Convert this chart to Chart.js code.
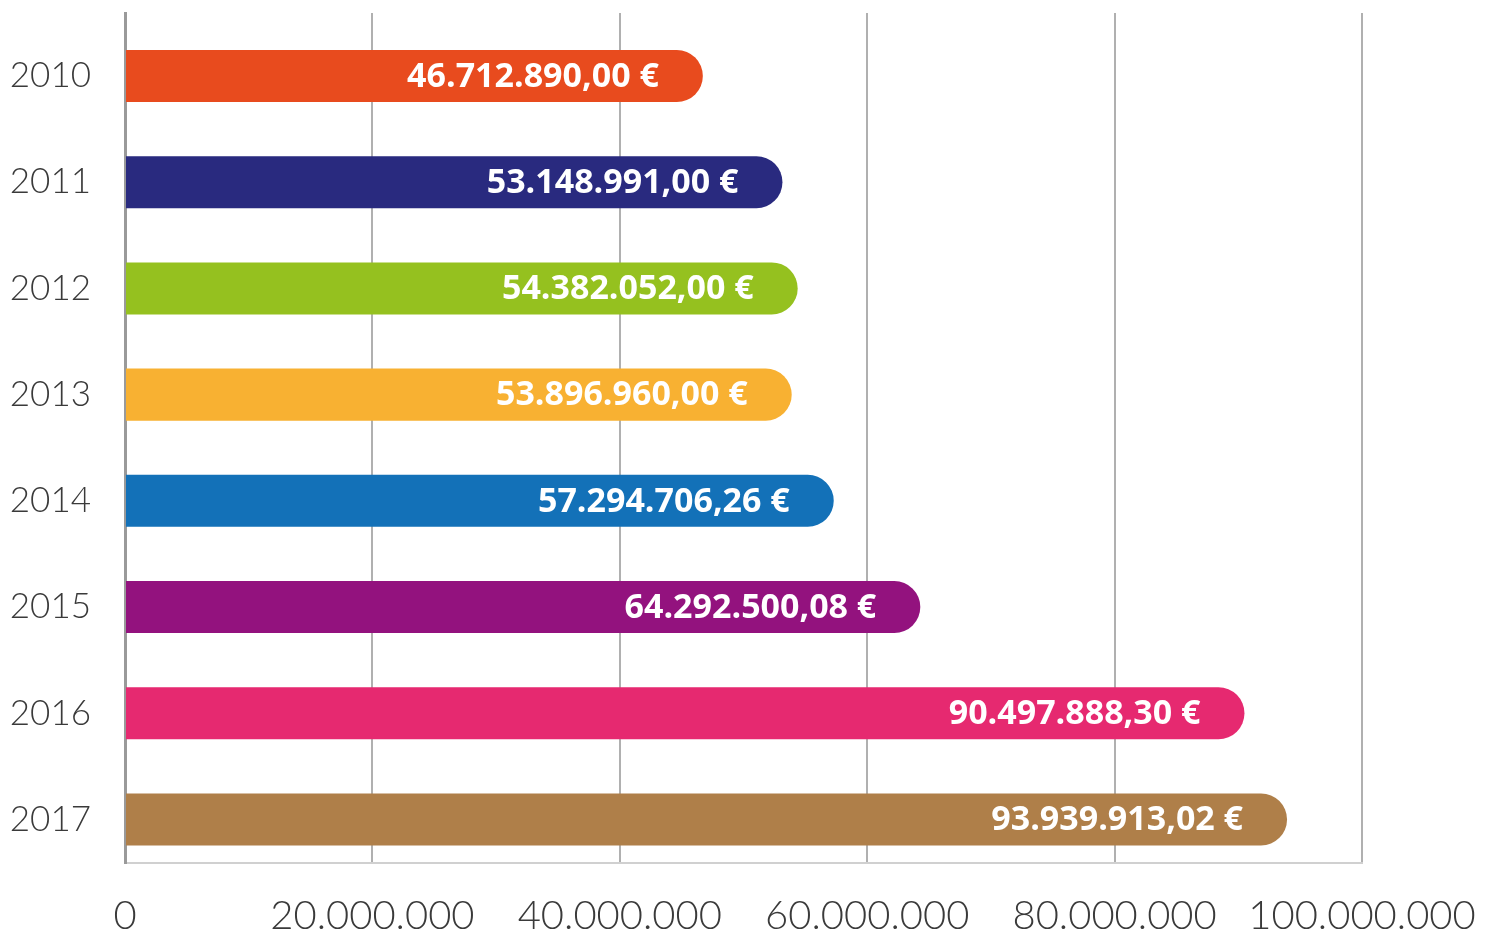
<!DOCTYPE html>
<html lang="es">
<head>
    <meta charset="UTF-8">
    <title>Importes por año</title>
    <script src="https://cdn.jsdelivr.net/npm/chart.js"></script>
    <style>
        html, body { margin: 0; padding: 0; background: #ffffff; }
        .wrap { width: 1488px; height: 934px; }
    </style>
</head>
<body>
    <div class="wrap">
        <canvas id="barChart" width="1488" height="934"></canvas>
    </div>

    <script>
        // datos
        const years = ['2010', '2011', '2012', '2013', '2014', '2015', '2016', '2017'];
        const amounts = [46712890.00, 53148991.00, 54382052.00, 53896960.00, 57294706.26, 64292500.08, 90497888.30, 93939913.02];
        const valueLabels = ['46.712.890,00 €', '53.148.991,00 €', '54.382.052,00 €', '53.896.960,00 €',
                             '57.294.706,26 €', '64.292.500,08 €', '90.497.888,30 €', '93.939.913,02 €'];
        const barColors = ['#E84B1E', '#292A7F', '#95C11F', '#F8B132', '#1371B8', '#93127E', '#E62970', '#AF7F49'];
        const xTickLabels = ['0', '20.000.000', '40.000.000', '60.000.000', '80.000.000', '100.000.000'];

        // etiquetas blancas dentro de cada barra
        const insideLabels = {
            id: 'insideLabels',
            afterDatasetsDraw(chart) {
                const ctx = chart.ctx;
                const meta = chart.getDatasetMeta(0);
                ctx.save();
                ctx.fillStyle = '#ffffff';
                ctx.font = 'bold 34px "Open Sans", sans-serif';
                ctx.textAlign = 'right';
                ctx.textBaseline = 'middle';
                meta.data.forEach((bar, i) => {
                    ctx.fillText(valueLabels[i], bar.x - 44, bar.y + 1);
                });
                ctx.restore();
            }
        };

        // sin huecos extra por las etiquetas que sobresalen
        const noPad = s => { s.paddingTop = 0; s.paddingBottom = 0; s.paddingLeft = 0; s.paddingRight = 0; };

        // eje de años como escala lineal: en el original las barras no están centradas en el marco
        const points = amounts.map((v, i) => ({ x: v, y: i }));

        const ctx = document.getElementById('barChart').getContext('2d');
        new Chart(ctx, {
            type: 'bar',
            data: {
                datasets: [{
                    data: points,
                    backgroundColor: barColors,
                    borderWidth: 0,
                    borderRadius: 26,
                    borderSkipped: 'start',
                    barPercentage: 0.98,
                    categoryPercentage: 0.5
                }]
            },
            options: {
                indexAxis: 'y',
                responsive: false,
                animation: false,
                layout: { padding: { top: 13, right: 126, left: 0, bottom: 0 } },
                plugins: {
                    legend: { display: false },
                    tooltip: { enabled: false }
                },
                scales: {
                    x: {
                        type: 'linear',
                        min: 0,
                        max: 100000000,
                        ticks: {
                            stepSize: 20000000,
                            padding: 29,
                            color: '#3a3a3a',
                            font: { family: 'Lato, Roboto, sans-serif', size: 40, weight: 300 },
                            callback: (v, i) => xTickLabels[i]
                        },
                        grid: { color: '#b0b0b0', lineWidth: 2, drawTicks: false },
                        border: { display: true, color: '#d0d0d0', width: 2 },
                        afterFit: s => { s.height = 71; noPad(s); }
                    },
                    y: {
                        type: 'linear',
                        reverse: true,
                        offset: false,
                        min: -0.593,
                        max: 7.41,
                        afterBuildTicks: s => { s.ticks = years.map((_, i) => ({ value: i })); },
                        ticks: {
                            padding: 34,
                            color: '#3a3a3a',
                            font: { family: 'Lato, Roboto, sans-serif', size: 35, weight: 300 },
                            callback: v => years[v]
                        },
                        grid: { display: false, drawTicks: false, offset: false },
                        border: { display: true, color: '#9a9a9a', width: 3 },
                        afterFit: s => { s.width = 125; noPad(s); }
                    }
                }
            },
            plugins: [insideLabels]
        });
    </script>
</body>
</html>
